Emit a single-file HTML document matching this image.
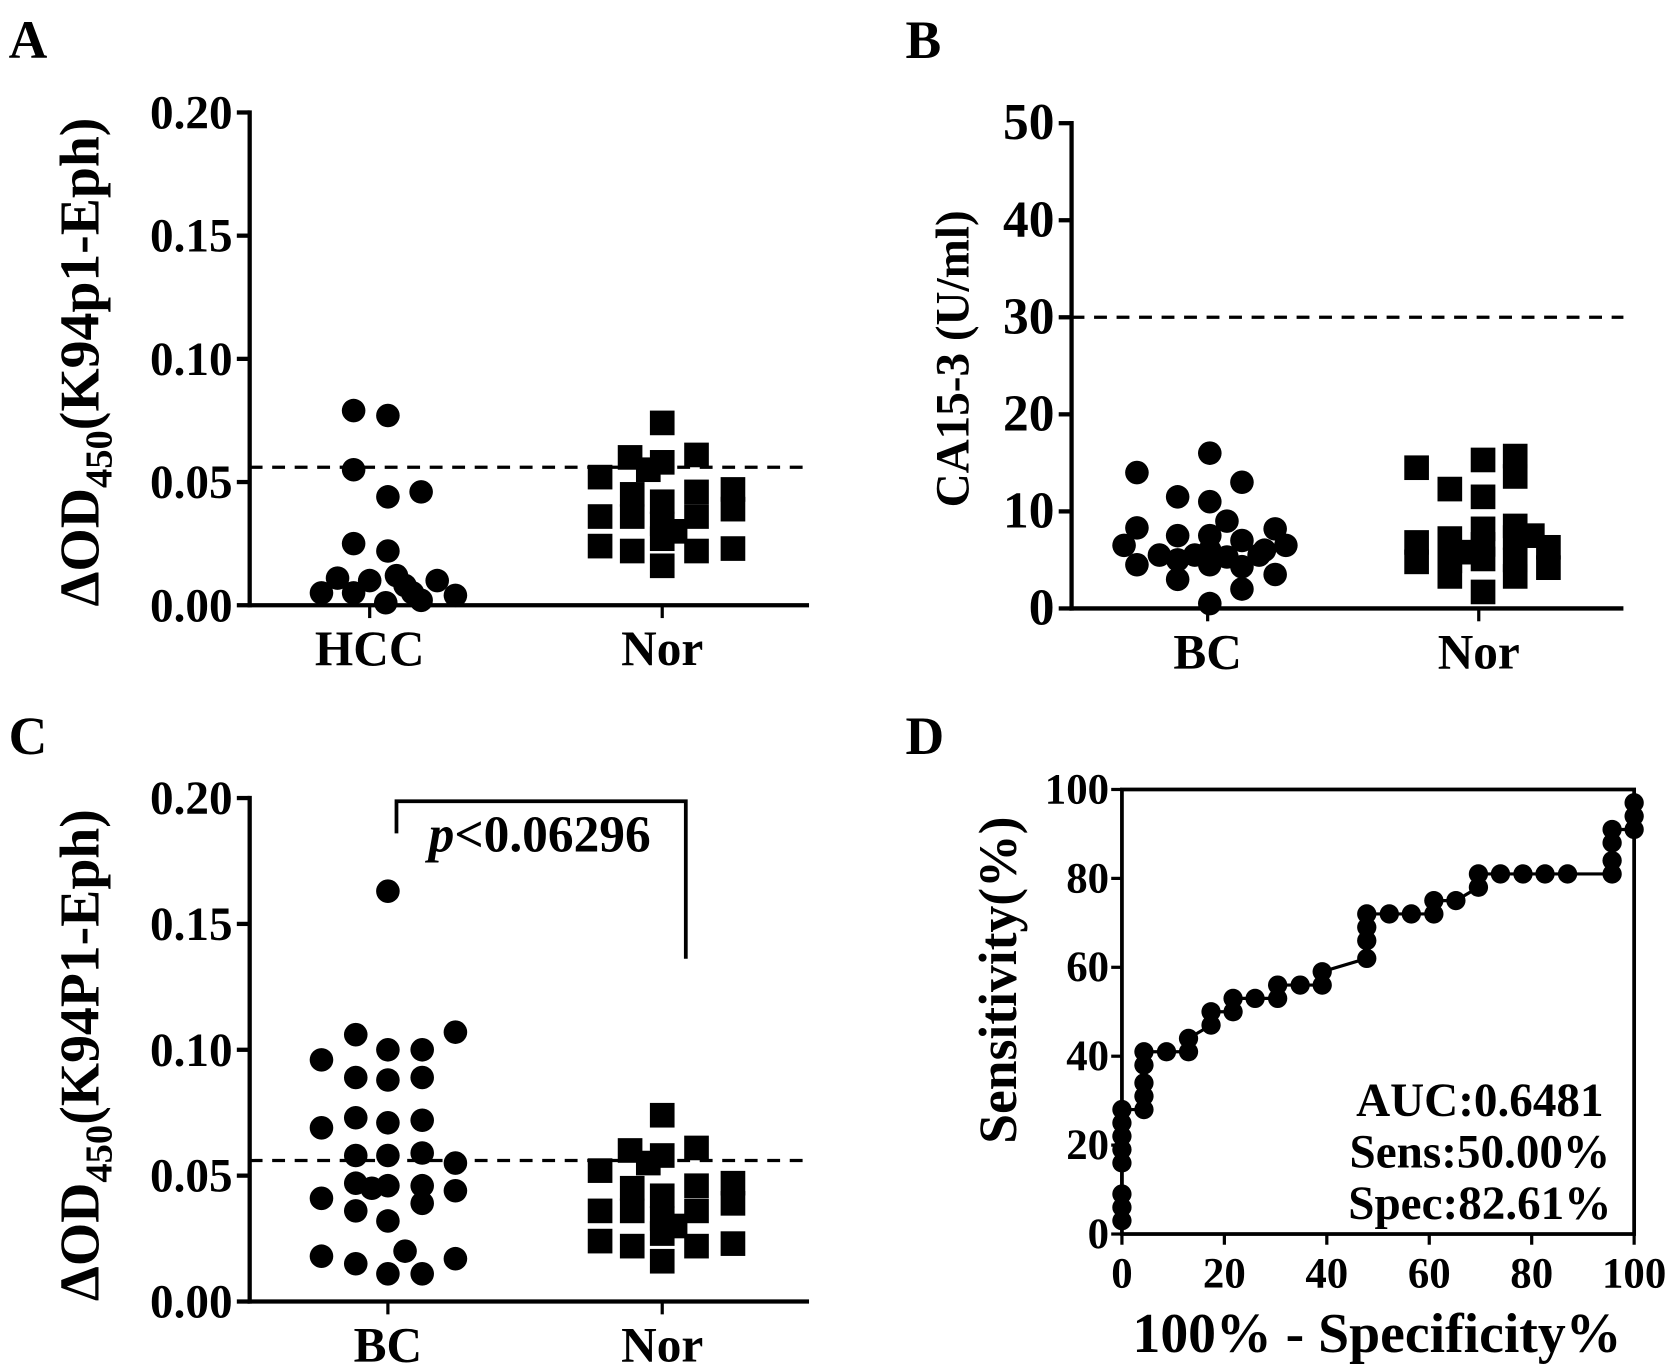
<!DOCTYPE html>
<html><head><meta charset="utf-8"><style>
html,body{margin:0;padding:0;background:#fff;}
svg{display:block;font-family:"Liberation Serif",serif;font-weight:bold;}
</style></head><body>
<svg id="fig" width="1677" height="1369" viewBox="0 0 1565 1278" preserveAspectRatio="none" xmlns="http://www.w3.org/2000/svg">
<rect width="1565" height="1278" fill="#fff"/>
<text x="8" y="54" font-size="50">A</text>
<text x="845" y="54" font-size="50">B</text>
<text x="8" y="704" font-size="50">C</text>
<text x="845" y="704" font-size="50">D</text>
<text transform="translate(92,338) rotate(-90)" text-anchor="middle" font-size="52">ΔOD<tspan font-size="36" dy="12">450</tspan><tspan dy="-12">(K94p1-Eph)</tspan></text>
<text transform="translate(92,985) rotate(-90)" text-anchor="middle" font-size="52">ΔOD<tspan font-size="36" dy="12">450</tspan><tspan dy="-12">(K94P1-Eph)</tspan></text>
<text transform="translate(904,335) rotate(-90)" text-anchor="middle" font-size="44">CA15-3 (U/ml)</text>
<text transform="translate(948,915) rotate(-90)" text-anchor="middle" font-size="50">Sensitivity(%)</text>
<text x="1285" y="1262" text-anchor="middle" font-size="52">100% - Specificity%</text>
<g id="layer"></g>
</svg>
<script>
// Panel A data
const aHccVals=[0.079,0.077,0.055,0.044,0.046,0.025,0.022,0.011,0.010,0.005,0.005,0.008,0.012,0.004,0.001,0.002,0.010,0.005];
const aHccOff=[-15,17,-15,17,48,-15,17,-30,0,-45,-15,33,25,80,15,48,63,40];
const norVals=[0.074,0.060,0.058,0.061,0.052,0.055,0.045,0.042,0.046,0.047,0.039,0.036,0.036,0.033,0.036,0.027,0.024,0.022,0.022,0.023,0.016,0.030];
const norOff=[0,-30,0,32,-58,-13,-28,0,32,66,66,-58,-28,0,32,0,-58,-28,32,66,0,12];
// Panel B data
const bBcVals=[16,14,13,11.5,11,9,8.3,8.2,7.5,7.5,7,6.5,6.5,6,5.5,5.5,5.3,5.5,4.5,4.5,4.3,3.5,3,2,0.5,5,6];
const bBcOff=[2,-66,32,-28,2,18,-66,63,-28,2,32,-78,73,2,-45,-12,18,48,-66,2,32,63,-28,32,2,-28,53];
const bNorVals=[14.5,12.3,15.3,11.5,15.7,13.6,8.2,8.5,6.8,7.2,6.6,7.3,6.3,4.8,4.9,5.1,5.0,4.2,3.3,1.7,3.3,5.8,7.5];
const bNorOff=[-58,-27,4,4,34,34,4,34,-58,-27,4,34,65,-58,-27,4,34,65,-27,4,34,-11,50];
// Panel C data
const cBcVals=[0.163,0.106,0.107,0.100,0.100,0.096,0.089,0.088,0.089,0.073,0.071,0.072,0.069,0.058,0.058,0.059,0.055,0.047,0.045,0.046,0.046,0.044,0.041,0.039,0.036,0.032,0.018,0.015,0.020,0.011,0.011,0.017];
const cBcOff=[0,-30,63,0,32,-62,-30,0,32,-30,0,32,-62,-30,0,32,63,-30,-15,0,32,63,-62,32,-30,0,-62,-30,16,0,32,63];
// Panel D data
const rocX=[0,0,0,0,0,0,0,0,4.3,4.3,4.3,4.3,4.3,8.7,13,13,17.4,17.4,21.7,21.7,26,30.4,30.4,34.8,39.1,39.1,47.8,47.8,47.8,47.8,52.2,56.5,60.9,60.9,65.2,69.6,69.6,73.9,78.3,82.6,87,95.7,95.7,95.7,95.7,100,100,100];
const rocY=[3,6,9,16,19,22,25,28,28,31,34,38,41,41,41,44,47,50,50,53,53,53,56,56,56,59,62,66,69,72,72,72,72,75,75,78,81,81,81,81,81,81,84,88,91,91,94,97];
const yTicksA=["0.00","0.05","0.10","0.15","0.20"];
const yTicksB=["0","10","20","30","40","50"];
const dTicks=["0","20","40","60","80","100"];

const NS="http://www.w3.org/2000/svg";
const L=document.getElementById('layer');
function mk(tag,attrs,name,parent){const e=document.createElementNS(NS,tag);for(const k in attrs)e.setAttribute(k,attrs[k]);


(parent||L).appendChild(e);return e;}
function txt(x,y,s,size,anchor,name){const t=mk('text',{x:x,y:y,'font-size':size,'text-anchor':anchor},name);t.textContent=s;return t;}

function dotPanel(p){
  const {x0,x1,yTop,yBot,max,ticks,tickVals,name}=p;
  const ys=v=>yBot-(v/max)*(yBot-yTop);
  mk('line',{x1:x0,y1:yTop-2,x2:x0,y2:yBot+2,stroke:'#000','stroke-width':4},name+'-y-axis');
  mk('line',{x1:x0-2,y1:yBot,x2:x1,y2:yBot,stroke:'#000','stroke-width':4},name+'-x-axis');
  ticks.forEach((t,i)=>{const y=ys(tickVals[i]);
    mk('line',{x1:x0-12,y1:y,x2:x0,y2:y,stroke:'#000','stroke-width':4},name+'-y-tick');
    txt(x0-16,y+15,t,p.tickSize||44,'end',name+'-y-tick-label');});
  p.cats.forEach(c=>{mk('line',{x1:c.x,y1:yBot,x2:c.x,y2:yBot+12,stroke:'#000','stroke-width':3},name+'-x-tick');
    txt(c.x,yBot+56,c.label,46,'middle',name+'-x-label');});
  if(p.cut!=null) mk('line',{x1:x0,y1:ys(p.cut),x2:x1,y2:ys(p.cut),stroke:'#000','stroke-width':3,'stroke-dasharray':'12,9'},name+'-cutoff-line');
  p.series.forEach(s=>{s.vals.forEach((v,i)=>{const cx=s.x+s.off[i],cy=ys(v);
    if(s.shape==='c') mk('circle',{cx:cx,cy:cy,r:11,fill:'#000'},name+'-point');
    else mk('rect',{x:cx-11.5,y:cy-11.5,width:23,height:23,fill:'#000'},name+'-point');});});
}
dotPanel({name:'panel-a',x0:233,x1:755,yTop:105,yBot:565,max:0.2,ticks:yTicksA,tickVals:[0,0.05,0.1,0.15,0.2],cut:0.056,
 cats:[{x:345,label:'HCC'},{x:618,label:'Nor'}],
 series:[{x:345,vals:aHccVals,off:aHccOff,shape:'c'},{x:618,vals:norVals,off:norOff,shape:'s'}]});
dotPanel({name:'panel-b',x0:1000,x1:1515,yTop:115,yBot:568,max:50,ticks:yTicksB,tickVals:[0,10,20,30,40,50],cut:30,tickSize:48,
 cats:[{x:1127,label:'BC'},{x:1380,label:'Nor'}],
 series:[{x:1127,vals:bBcVals,off:bBcOff,shape:'c'},{x:1380,vals:bNorVals,off:bNorOff,shape:'s'}]});
dotPanel({name:'panel-c',x0:233,x1:755,yTop:745,yBot:1215,max:0.2,ticks:yTicksA,tickVals:[0,0.05,0.1,0.15,0.2],cut:0.056,
 cats:[{x:362,label:'BC'},{x:618,label:'Nor'}],
 series:[{x:362,vals:cBcVals,off:cBcOff,shape:'c'},{x:618,vals:norVals,off:norOff,shape:'s'}]});
// bracket
mk('polyline',{points:'370,778 370,748 640,748 640,895',fill:'none',stroke:'#000','stroke-width':3.5},'significance-bracket');
const pt=mk('text',{x:400,y:795,'font-size':48},'p-value-label');
pt.innerHTML='<tspan font-style="italic">p</tspan>&lt;0.06296';

// Panel D
const dx0=1047,dx1=1525,dy0=1152,dy1=737;
const sx=v=>dx0+v/100*(dx1-dx0), sy=v=>dy0-v/100*(dy0-dy1);
mk('rect',{x:dx0,y:dy1,width:dx1-dx0,height:dy0-dy1,fill:'none',stroke:'#000','stroke-width':3.5},'panel-d-plot-frame');
dTicks.forEach(t=>{const v=+t;
 mk('line',{x1:dx0-10,y1:sy(v),x2:dx0,y2:sy(v),stroke:'#000','stroke-width':3},'panel-d-y-tick');
 txt(dx0-12,sy(v)+13,t,40,'end','panel-d-y-tick-label');
 mk('line',{x1:sx(v),y1:dy0,x2:sx(v),y2:dy0+10,stroke:'#000','stroke-width':3},'panel-d-x-tick');
 txt(sx(v),dy0+50,t,40,'middle','panel-d-x-tick-label');});
mk('polyline',{points:rocX.map((x,i)=>sx(x)+','+sy(rocY[i])).join(' '),fill:'none',stroke:'#000','stroke-width':3},'roc-curve');
rocX.forEach((x,i)=>mk('circle',{cx:sx(x),cy:sy(rocY[i]),r:9,fill:'#000'},'roc-point'));
txt(1381,1042,'AUC:0.6481',44,'middle','auc-label');
txt(1381,1090,'Sens:50.00%',44,'middle','sensitivity-label');
txt(1381,1138,'Spec:82.61%',44,'middle','specificity-label');
</script>
</body></html>
